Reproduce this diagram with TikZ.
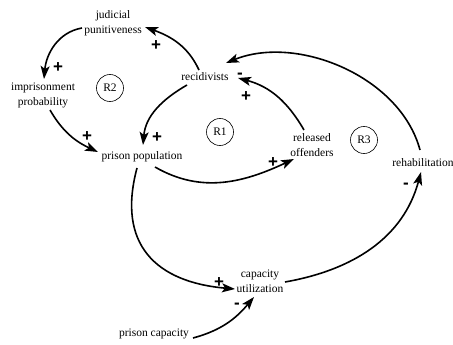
\documentclass[tikz,border=0pt]{standalone}
\usepackage{fontspec}
\setmainfont{Liberation Serif}
\newfontfamily\signfont{Liberation Sans}
\usetikzlibrary{arrows.meta}
\begin{document}
\begin{tikzpicture}[x=1pt,y=1pt,
  var/.style={font=\fontsize{11.5}{15}\selectfont, align=center, inner sep=1pt},
  loopid/.style={draw, circle, minimum size=27pt, inner sep=0pt, line width=0.6pt, font=\fontsize{11.5}{14}\selectfont},
  link/.style={line width=1.6pt, -{Stealth[length=13pt,width=9pt,inset=3pt]}},
  sign/.style={font=\signfont\bfseries\fontsize{17}{17}\selectfont, inner sep=0pt}]
\useasboundingbox (0,0) rectangle (453,-345);

\node[var] (jud) at (113,-23) {judicial\\punitiveness};
\node[var] (imp) at (43,-95) {imprisonment\\probability};
\node[var] (rec) at (205,-77) {recidivists};
\node[var] (pp) at (142,-157) {prison population};
\node[var] (rel) at (312,-145) {released\\offenders};
\node[var] (rehab) at (423,-163) {rehabilitation};
\node[var] (cap) at (260,-281) {capacity\\utilization};
\node[var] (pcap) at (154,-334) {prison capacity};

\node[loopid] (r2) at (110,-88) {R2};
\node[loopid] (r1) at (220,-132) {R1};
\node[loopid] (r3) at (364,-140) {R3};

\draw[link] ([xshift=-6pt,yshift=7pt]rec.center) to[out=115,in=-20] ([xshift=32pt,yshift=-4pt]jud.center);
\draw[link] ([xshift=-31pt,yshift=-5pt]jud.center) to[out=190,in=85] ([xshift=1pt,yshift=16pt]imp.center);
\draw[link] ([xshift=7pt,yshift=-15pt]imp.center) to[out=300,in=155] ([xshift=-44pt,yshift=5pt]pp.center);
\draw[link] ([xshift=-18pt,yshift=-8pt]rec.center) to[out=210,in=85] ([xshift=1pt,yshift=12pt]pp.center);
\draw[link] ([xshift=13pt,yshift=-10pt]pp.center) to[out=-30,in=205] ([xshift=-18pt,yshift=-14pt]rel.center);
\draw[link] ([xshift=-8pt,yshift=15pt]rel.center) to[out=120,in=-15] ([xshift=33pt,yshift=-1pt]rec.center);
\draw[link] ([xshift=-3pt,yshift=13pt]rehab.center) to[out=105,in=22,looseness=0.92] ([xshift=21pt,yshift=14pt]rec.center);
\draw[link] ([xshift=-5pt,yshift=-11pt]pp.center) to[out=255,in=175,looseness=1.3] ([xshift=-25pt,yshift=-8pt]cap.center);
\draw[link] ([xshift=25pt,yshift=-1pt]cap.center) to[out=10,in=255] ([xshift=-2pt,yshift=-9pt]rehab.center);
\draw[link] ([xshift=39pt,yshift=-4pt]pcap.center) to[out=15,in=230] ([xshift=-6pt,yshift=-16pt]cap.center);

\node[sign] (s1) at (156,-46) {+};
\node[sign] (s2) at (58,-68) {+};
\node[sign] (s3) at (87,-137) {+};
\node[sign] (s4) at (157,-138) {+};
\node[sign] (s5) at (273,-163) {+};
\node[sign] (s6) at (246,-97) {+};
\node[sign] (s7) at (240,-76) {-};
\node[sign] (s8) at (219,-283) {+};
\node[sign] (s9) at (406,-186) {-};
\node[sign] (s10) at (237,-306) {-};
\end{tikzpicture}
\end{document}
